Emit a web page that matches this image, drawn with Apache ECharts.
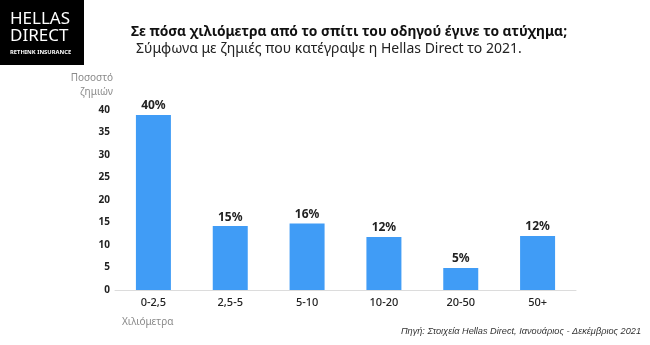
<!DOCTYPE html>
<html><head><meta charset="utf-8">
<script src="https://cdn.jsdelivr.net/npm/echarts@6/dist/echarts.min.js"></script>
<style>html,body{margin:0;padding:0;background:#fff}#c{width:650px;height:345px}</style>
</head><body><div id="c"></div>
<script>
const categories = ['0-2,5', '2,5-5', '5-10', '10-20', '20-50', '50+'];
const barValues = [38.9, 14.2, 14.8, 11.8, 4.9, 12.0];
const barLabels = ['40%', '15%', '16%', '12%', '5%', '12%'];
const yTicks = [0, 5, 10, 15, 20, 25, 30, 35, 40];
const titleText = 'Σε πόσα χιλιόμετρα από το σπίτι του οδηγού έγινε το ατύχημα;';
const subtitleText = 'Σύμφωνα με ζημιές που κατέγραψε η Hellas Direct το 2021.';
const yName = ['Ποσοστό', 'ζημιών'];
const xName = 'Χιλιόμετρα';
const sourceText = 'Πηγή: Στοιχεία Hellas Direct, Ιανουάριος - Δεκέμβριος 2021';

const FONT = '"Noto Sans", sans-serif';
const chart = echarts.init(document.getElementById('c'), null, {renderer: 'canvas'});
chart.setOption({
  backgroundColor: '#fff',
  animation: false,
  textStyle: {fontFamily: FONT},
  grid: {left: 115, right: 74, top: 110, bottom: 55, containLabel: false},
  xAxis: {
    type: 'category', data: categories,
    axisLine: {lineStyle: {color: '#dcdcdc', width: 1}},
    axisTick: {show: false},
    axisLabel: {color: '#222', fontSize: 11, fontWeight: 500, margin: 7, fontFamily: FONT}
  },
  yAxis: {
    type: 'value', min: yTicks[0], max: yTicks[yTicks.length - 1], interval: 5,
    splitLine: {show: false}, axisLine: {show: false}, axisTick: {show: false},
    axisLabel: {color: '#222', fontSize: 10, fontWeight: 'bold', margin: 5, fontFamily: FONT}
  },
  series: [{
    type: 'bar', data: barValues, barWidth: 35,
    itemStyle: {color: '#409CF6'},
    label: {
      show: true, position: 'top', distance: 3, color: '#222', fontSize: 12, fontWeight: 'bold',
      fontFamily: FONT,
      formatter: p => barLabels[p.dataIndex]
    }
  }],
  graphic: [
    {type: 'rect', left: 0, top: 0, shape: {width: 84, height: 65}, style: {fill: '#000'}},
    {type: 'text', left: 10, top: 11, style: {text: 'HELLAS', fill: '#fff', font: '17px ' + FONT, letterSpacing: 1.8}},
    {type: 'text', left: 10, top: 28, style: {text: 'DIRECT', fill: '#fff', font: '17px ' + FONT, letterSpacing: 1.8}},
    {type: 'text', left: 10, top: 49, style: {text: 'RETHINK INSURANCE', fill: '#fff', font: 'bold 5.8px ' + FONT}},
    {type: 'text', left: 131, top: 25, style: {text: titleText, fill: '#111', font: 'bold 13.8px ' + FONT}},
    {type: 'text', left: 136, top: 42, style: {text: subtitleText, fill: '#222', font: '14px ' + FONT}},
    {type: 'text', right: 537, top: 73, style: {text: yName[0], fill: '#8a8a8a', font: '10px ' + FONT, align: 'right'}},
    {type: 'text', right: 537, top: 87, style: {text: yName[1], fill: '#8a8a8a', font: '10px ' + FONT, align: 'right'}},
    {type: 'text', left: 122, top: 317, style: {text: xName, fill: '#8a8a8a', font: '10px ' + FONT}},
    {type: 'text', right: 9, top: 327, style: {text: sourceText, fill: '#333', font: 'italic 9.2px "Liberation Sans", Arial, sans-serif'}}
  ]
});
</script></body></html>
